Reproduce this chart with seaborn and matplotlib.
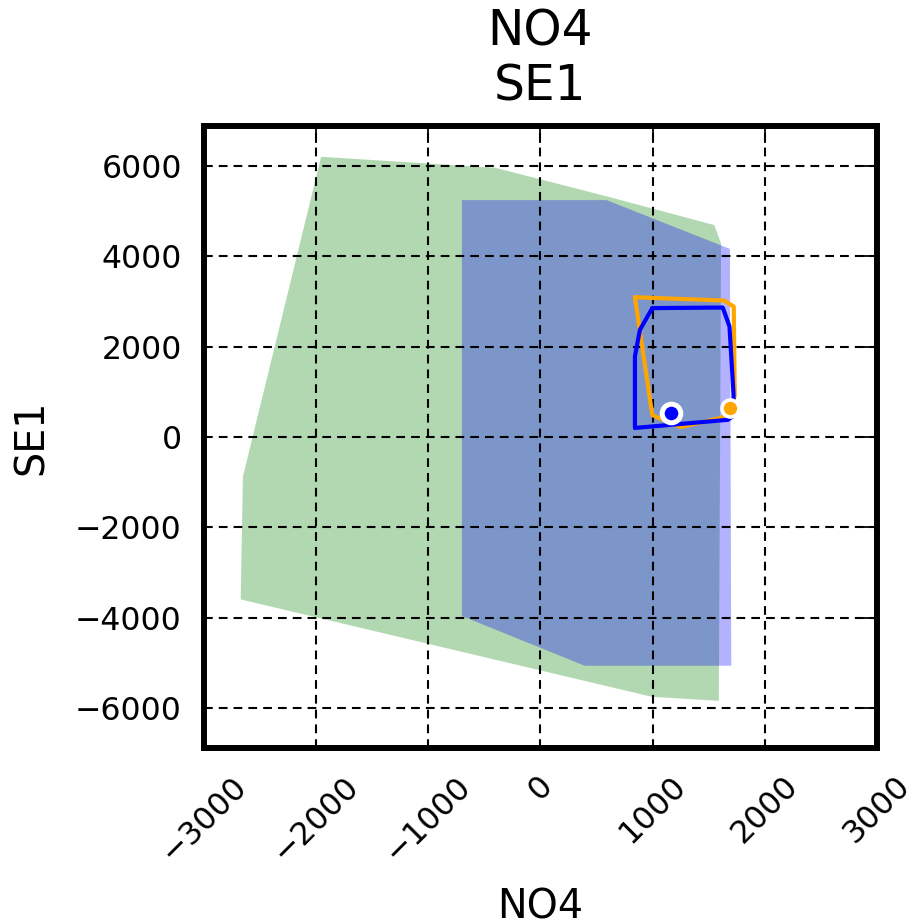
import matplotlib

matplotlib.use("Agg")

import matplotlib.pyplot as plt
import pandas as pd
import seaborn as sns

# green region (NO4 vs SE1)
green_x = [-1956, -402, 594, 1550, 1610, 1590, 992, -2673, -2653]
green_y = [6199, 5955, 5321, 4688, 4281, -5837, -5747, -3593, -878]

# blue region
blue_x = [-701, 590, 1689, 1701, 394, -701]
blue_y = [5240, 5240, 4160, -5060, -5060, -3960]

# orange loop
orange_x = [842, 1637, 1723, 1732, 1690, 1622, 1250, 997, 842]
orange_y = [3092, 3018, 2886, 908, 652, 432, 220, 484, 3092]

# blue loop
bline_x = [997, 1625, 1685, 1721, 1721, 1670, 842, 842, 887, 997]
bline_y = [2851, 2864, 2446, 945, 468, 380, 200, 1787, 2374, 2851]

# current points
pt_blue = (1167, 540)
pt_orange = (1690, 640)

x_ticks = [-3000, -2000, -1000, 0, 1000, 2000, 3000]
y_ticks = [-6000, -4000, -2000, 0, 2000, 4000, 6000]

sns.set_style("white")
plt.rcParams["font.family"] = ["DejaVu Sans"]
plt.rcParams["text.color"] = "black"
plt.rcParams["axes.labelcolor"] = "black"
plt.rcParams["xtick.color"] = "black"
plt.rcParams["ytick.color"] = "black"

fig = plt.figure(figsize=(9.07, 9.23), dpi=100)
ax = fig.add_axes([0.2249, 0.1896, 0.742, 0.6739])

ax.fill(green_x, green_y, color="g", alpha=0.3, lw=0, zorder=1)
ax.fill(blue_x, blue_y, color="b", alpha=0.3, lw=0, zorder=1)

orange_df = pd.DataFrame({"x": orange_x, "y": orange_y})
bline_df = pd.DataFrame({"x": bline_x, "y": bline_y})
sns.lineplot(data=orange_df, x="x", y="y", sort=False, estimator=None,
             color="orange", lw=3.0, ax=ax, zorder=3)
sns.lineplot(data=bline_df, x="x", y="y", sort=False, estimator=None,
             color="blue", lw=3.0, ax=ax, zorder=4)

sns.scatterplot(x=[pt_blue[0]], y=[pt_blue[1]], color="blue", s=180,
                edgecolor="white", linewidth=3.6, ax=ax, zorder=5)
sns.scatterplot(x=[pt_orange[0]], y=[pt_orange[1]], color="orange", s=150,
                edgecolor="white", linewidth=2.6, ax=ax, zorder=5)

ax.set_xlim(-3000, 3000)
ax.set_ylim(-6880, 6880)
ax.set_xticks(x_ticks)
ax.set_yticks(y_ticks)

ax.grid(True, color="black", linestyle=(0, (4.2, 2.9)), lw=1.5, zorder=2)
ax.set_axisbelow(False)

for sp in ax.spines.values():
    sp.set_linewidth(4.3)
    sp.set_color("black")
    sp.set_zorder(6)

ax.tick_params(axis="both", which="major", direction="in", length=12, width=1.3,
               top=True, right=True, labelsize=22.7, pad=16, color="black")
plt.setp(ax.get_xticklabels(), rotation=45)

ax.set_title("NO4\nSE1", fontsize=35, pad=18)
ax.set_xlabel("NO4", fontsize=28.5)
ax.set_ylabel("SE1", fontsize=28.5)
ax.xaxis.set_label_coords(0.5, -0.225)
ax.yaxis.set_label_coords(-0.226, 0.5)

fig.savefig("out.png", dpi=100)
plt.close(fig)
